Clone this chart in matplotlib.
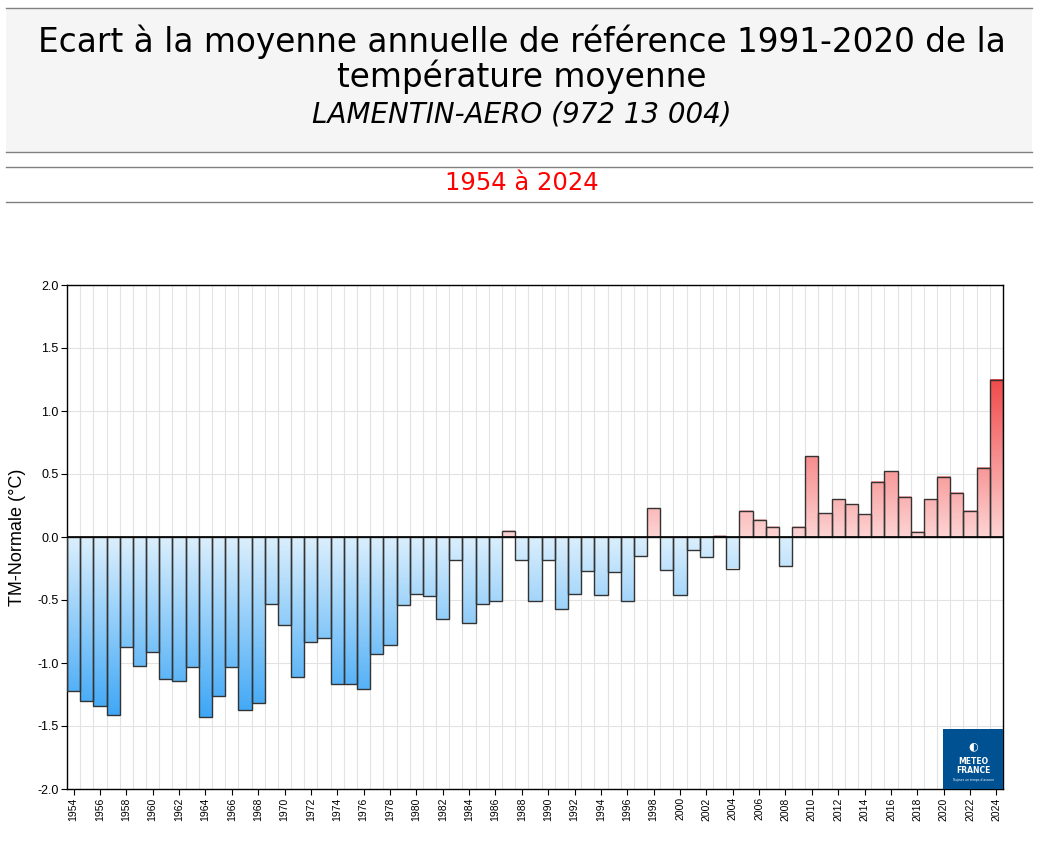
import numpy as np
import matplotlib
matplotlib.use('Agg')
import matplotlib.pyplot as plt
from matplotlib.colors import LinearSegmentedColormap
from matplotlib.patches import Rectangle
from matplotlib.lines import Line2D

years = np.arange(1954, 2025)
anomalies = [
    -1.22, -1.30, -1.34, -1.41, -0.87, -1.02, -0.91, -1.13, -1.14, -1.03,
    -1.43, -1.26, -1.03, -1.37, -1.32, -0.53, -0.70, -1.11, -0.83, -0.80,
    -1.17, -1.17, -1.21, -0.93, -0.86, -0.54, -0.45, -0.47, -0.65, -0.18,
    -0.68, -0.53, -0.51, 0.05, -0.18, -0.51, -0.18, -0.57, -0.45, -0.27,
    -0.46, -0.28, -0.51, -0.15, 0.23, -0.26, -0.46, -0.10, -0.16, 0.01,
    -0.25, 0.21, 0.135, 0.08, -0.23, 0.08, 0.64, 0.19, 0.30, 0.26,
    0.18, 0.44, 0.52, 0.32, 0.04, 0.30, 0.48, 0.35, 0.21, 0.55,
    1.25,
]
xtick_years = years[::2]
yticks = [-2.0, -1.5, -1.0, -0.5, 0.0, 0.5, 1.0, 1.5, 2.0]

title_1 = "Ecart à la moyenne annuelle de référence 1991-2020 de la"
title_2 = "température moyenne"
station = "LAMENTIN-AERO (972 13 004)"
period = "1954 à 2024"

blues = LinearSegmentedColormap.from_list('b', ['#3ea7f6', '#dbeffd'])
reds = LinearSegmentedColormap.from_list('r', ['#fdd3d3', '#f24b4b'])
vmin, vmax = min(anomalies), max(anomalies)

fig = plt.figure(figsize=(10.44, 8.5), dpi=100)

# header
fig.add_artist(Rectangle((6 / 1044, 1 - 152 / 850), 1026 / 1044, 144 / 850,
                         transform=fig.transFigure, facecolor='#f5f5f5',
                         edgecolor='none'))
for yp in [8, 152, 167, 202]:
    fig.add_artist(Line2D([6 / 1044, 1032 / 1044], [1 - yp / 850, 1 - yp / 850],
                          transform=fig.transFigure, color='#808080', lw=1))
fig.text(0.5, 1 - 42 / 850, title_1, ha='center', va='center', fontsize=23.6,
         family='DejaVu Sans')
fig.text(0.5, 1 - 77 / 850, title_2, ha='center', va='center', fontsize=23.6,
         family='DejaVu Sans')
fig.text(0.5, 1 - 115 / 850, station, ha='center', va='center', fontsize=20,
         style='italic', family='DejaVu Sans')
fig.text(0.5, 1 - 183 / 850, period, ha='center', va='center', fontsize=17.5,
         color='#ff0000', family='DejaVu Sans')

ax = fig.add_axes([67 / 1044, 1 - 789 / 850, 936 / 1044, 504 / 850])

# gradient bars
for yr, v in zip(years, anomalies):
    lo, hi = min(0, v), max(0, v)
    grad = np.linspace(lo, hi, 60).reshape(-1, 1)
    if v < 0:
        norm = (grad - vmin) / (0 - vmin)
        cmap = blues
    else:
        norm = grad / vmax
        cmap = reds
    ax.imshow(norm, cmap=cmap, vmin=0, vmax=1, extent=[yr - 0.5, yr + 0.5, lo, hi],
              origin='lower', aspect='auto', interpolation='bilinear', zorder=2)
ax.bar(years, anomalies, width=1.0, fill=False, edgecolor='#333333',
       linewidth=1.0, zorder=3)
ax.axhline(0, color='black', lw=1.2, zorder=4)

ax.set_xlim(years[0] - 0.5, years[-1] + 0.5)
ax.set_ylim(-2, 2)

# grid
for y in yticks:
    ax.axhline(y, color='#e3e3e3', lw=0.8, zorder=0)
for b in np.arange(years[0] + 0.5, years[-1], 1.0):
    ax.axvline(b, color='#e3e3e3', lw=0.8, zorder=0)

ax.set_yticks(yticks)
ax.set_yticklabels([f"{t:.1f}" for t in yticks], family='Liberation Sans',
                   fontsize=9)
ax.set_xticks(xtick_years)
ax.set_xticklabels([str(y) for y in xtick_years], rotation=90,
                   family='Liberation Sans', fontsize=7.5)
ax.tick_params(axis='both', length=4, width=0.8, pad=2)
for s in ax.spines.values():
    s.set_linewidth(1)
ax.set_ylabel("TM-Normale (°C)", family='Liberation Sans', fontsize=13,
              labelpad=8)

# logo
ax.add_patch(Rectangle((0.936, 0.0), 0.064, 0.119, transform=ax.transAxes,
                       facecolor='#005192', edgecolor='none', zorder=5))
ax.text(0.968, 0.085, "◐", transform=ax.transAxes, ha='center', va='center',
        color='white', fontsize=8, zorder=6)
ax.text(0.968, 0.045, "METEO\nFRANCE", transform=ax.transAxes, ha='center',
        va='center', color='white', fontsize=5.5, fontweight='bold',
        linespacing=1.0, zorder=6)
ax.text(0.968, 0.017, "Toujours un temps d'avance", transform=ax.transAxes,
        ha='center', va='center', color='white', fontsize=2.2, zorder=6)

fig.savefig('out.png', dpi=100)
